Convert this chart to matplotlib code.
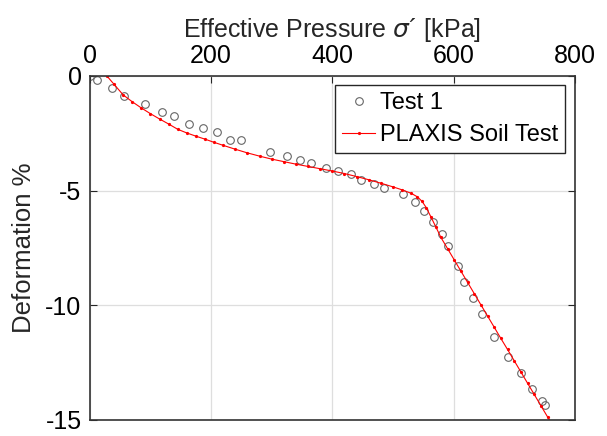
import matplotlib
matplotlib.use('Agg')
import matplotlib.pyplot as plt

plt.rcParams['font.family'] = ['Liberation Sans', 'DejaVu Sans']
plt.rcParams['mathtext.fontset'] = 'dejavusans'
plt.rcParams['axes.unicode_minus'] = False

# Test 1 (measured)
test_p = [0, 12, 36, 56, 91, 119, 139, 164, 187, 210, 232, 250, 298, 326, 346,
          364, 389, 409, 430, 447, 468, 485, 516, 536, 551, 566, 581, 591, 607,
          617, 632, 647, 667, 690, 711, 730, 746, 751]
test_d = [0, -0.17, -0.52, -0.87, -1.22, -1.57, -1.74, -2.09, -2.26, -2.43, -2.78,
          -2.78, -3.30, -3.48, -3.65, -3.78, -4.00, -4.17, -4.30, -4.52, -4.70,
          -4.87, -5.17, -5.52, -5.91, -6.39, -6.91, -7.43, -8.30, -9.00, -9.70,
          -10.39, -11.39, -12.26, -12.96, -13.65, -14.17, -14.35]

# PLAXIS Soil Test
plaxis_p = [28, 40, 55, 70, 85, 100, 115, 130, 145, 160, 175, 190, 205, 220, 240,
            260, 280, 300, 320, 340, 360, 380, 400, 420, 440, 460, 480, 500, 515,
            530, 540, 548, 555, 563, 571, 579, 590, 601, 612, 623, 634, 645, 656,
            667, 678, 689, 700, 711, 722, 733, 744, 755, 762]
plaxis_d = [0, -0.37, -0.83, -1.13, -1.40, -1.65, -1.88, -2.10, -2.33, -2.49, -2.63,
            -2.76, -2.90, -3.03, -3.20, -3.36, -3.50, -3.63, -3.74, -3.85, -3.95,
            -4.05, -4.15, -4.26, -4.39, -4.53, -4.68, -4.84, -4.97, -5.12, -5.27,
            -5.47, -5.75, -6.17, -6.60, -7.04, -7.53, -8.02, -8.51, -9.00, -9.49,
            -9.98, -10.47, -10.96, -11.45, -11.93, -12.42, -12.91, -13.40, -13.89,
            -14.38, -14.87, -15.18]

fig = plt.figure(figsize=(6.07, 4.36), dpi=100)
ax = fig.add_axes([0.148, 0.037, 0.799, 0.789])

ax.plot(test_p, test_d, 'o', mfc='none', mec='0.4', ms=5.5, mew=0.8, label='Test 1')
ax.plot(plaxis_p, plaxis_d, '.-', color='red', lw=0.8, ms=2.6, label='PLAXIS Soil Test')

ax.set_xlim(0, 800)
ax.set_ylim(-15, 0)
ax.set_xticks([0, 200, 400, 600, 800])
ax.set_yticks([-15, -10, -5, 0])
ax.xaxis.tick_top()
ax.xaxis.set_label_position('top')
ax.tick_params(direction='in', labelsize=18, colors='0.15', top=True, right=True,
               length=5, labelcolor='black', pad=6)
ax.grid(True, color='0.87', lw=0.9)
for s in ax.spines.values():
    s.set_color('0.2')
    s.set_linewidth(1.2)

ax.set_xlabel("Effective Pressure $\\sigma$\u00b4 [kPa]", fontsize=18, color='0.15', labelpad=5)
ax.set_ylabel('Deformation %', fontsize=18.5, color='0.15', labelpad=7)

leg = ax.legend(loc='upper right', fontsize=17, fancybox=False, framealpha=1,
                edgecolor='0.15', borderaxespad=0.4, handlelength=1.4,
                handletextpad=0.2, borderpad=0.3, labelspacing=0.4)
leg.get_frame().set_linewidth(1.0)

fig.savefig('out.png', dpi=100)
